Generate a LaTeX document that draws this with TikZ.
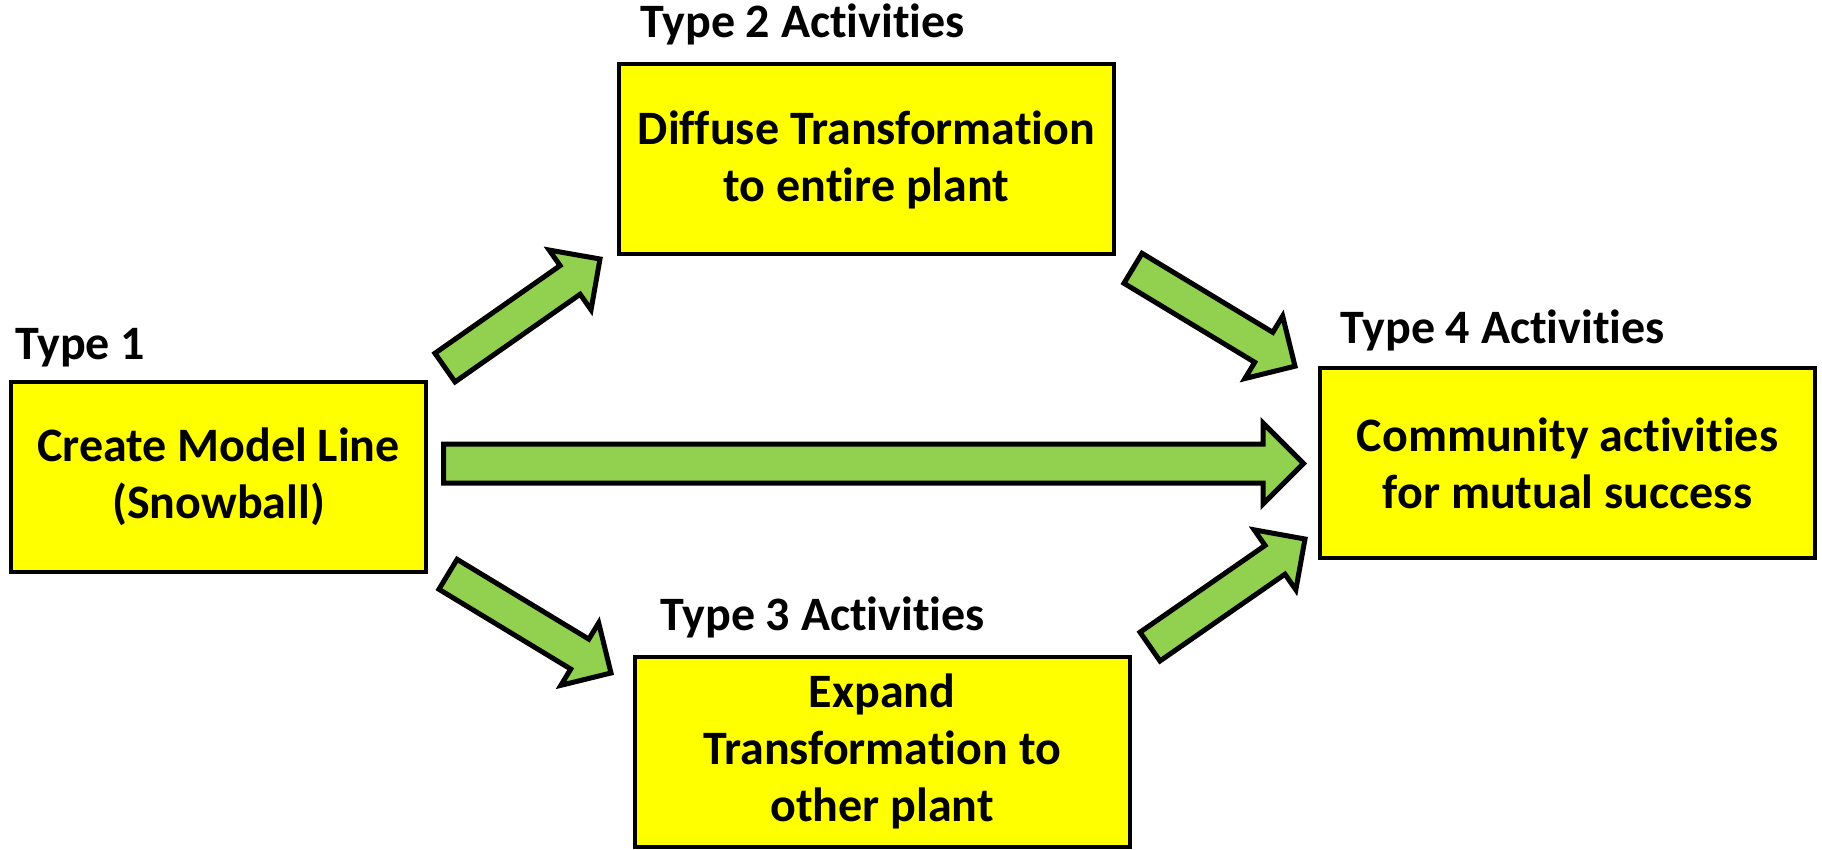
\documentclass[tikz,border=0pt]{standalone}
\usepackage{fontspec}
\setmainfont{Carlito}[Ligatures=NoCommon]
\usetikzlibrary{shapes.arrows,calc}

\definecolor{boxyellow}{HTML}{FFFF00}
\definecolor{arrowgreen}{HTML}{92D050}

% block arrow from one named point to another
\newcommand{\fatarrow}[3][]{%
  \path let \p1=($(#3)-(#2)$), \n1={atan2(\y1,\x1)}, \n2={veclen(\x1,\y1)} in
    node[bigarrow,#1,rotate=\n1,minimum height=\n2,anchor=tail] at (#2) {};
}

\begin{document}
\begin{tikzpicture}
  [x=1pt,y=-1pt,
   every node/.style={font=\fontsize{48}{57}\selectfont\bfseries},
   actbox/.style={rectangle,draw=black,fill=boxyellow,line width=4pt,align=center,
     minimum width=#1,minimum height=190pt,inner sep=0pt},
   actbox/.default=495pt,
   tag/.style={anchor=base west,inner sep=0pt},
   bigarrow/.style={single arrow,draw=black,fill=arrowgreen,line width=5pt,
     inner xsep=0pt,inner ysep=15pt,single arrow head extend=19pt,
     single arrow tip angle=90,minimum width=0pt,outer sep=0pt},
   wide/.style={inner ysep=17pt,single arrow head extend=21pt}]
  \useasboundingbox (0,0) rectangle (1822,850);

  \node[actbox=415pt] (b1) at (218.5,477)  {Create Model Line\\(Snowball)};
  \node[actbox] (b2) at (866.5,159.5) {Diffuse Transformation\\to entire plant};
  \node[actbox] (b3) at (882,751.5)   {Expand\\Transformation to\\other plant};
  \node[actbox] (b4) at (1567.5,463)  {Community activities\\for mutual success};

  \node[tag] (l1) at (15,359)   {Type 1};
  \node[tag] (l2) at (640,38)   {Type 2 Activities};
  \node[tag] (l3) at (660,630)  {Type 3 Activities};
  \node[tag] (l4) at (1340,343) {Type 4 Activities};

  % arrow ends
  \coordinate (a1) at (445,367.6);
  \coordinate (a2) at (600,259);
  \coordinate (c1) at (1133,268.3);
  \coordinate (c2) at (1295,366.2);
  \coordinate (e1) at (448,574.3);
  \coordinate (e2) at (611,673);
  \coordinate (g1) at (1150,646.6);
  \coordinate (g2) at (1305,539);
  \coordinate (h1) at (443.5,463.5);
  \coordinate (h2) at (1303.5,463.5);

  \foreach \from/\to in {a1/a2,c1/c2,e1/e2,g1/g2}
    {\fatarrow{\from}{\to}}
  \fatarrow[wide]{h1}{h2}

\end{tikzpicture}
\end{document}
